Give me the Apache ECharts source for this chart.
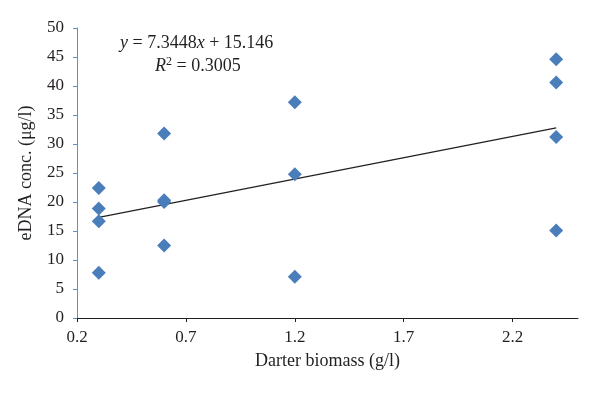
<!DOCTYPE html>
<html style="height: 100%">
<head>
	<meta charset="utf-8">
</head>
<body style="height: 100%; margin: 0; background: #fff">
<div id="container" style="width: 600px; height: 394px"></div>
<script type="text/javascript" src="https://cdn.jsdelivr.net/npm/echarts@6/dist/echarts.min.js"></script>
<script type="text/javascript">
    var dom = document.getElementById("container");
    var myChart = echarts.init(dom);

    // biomass groups (g/l) and measured eDNA (ug/l)
    var biomass = [0.3, 0.3, 0.3, 0.3,
                   0.6, 0.6, 0.6, 0.6,
                   1.2, 1.2, 1.2,
                   2.4, 2.4, 2.4, 2.4];
    var edna = [22.4, 18.9, 16.7, 7.8,
                31.8, 20.3, 20.0, 12.5,
                37.2, 24.8, 7.1,
                44.6, 40.6, 31.2, 15.1];
    var xTicks = [0.2, 0.7, 1.2, 1.7, 2.2];
    var slope = 7.3448, intercept = 15.146, r2 = '0.3005';
    var trendX = [0.3, 2.4];

    var points = [];
    for (var i = 0; i < biomass.length; i++) {
        points.push([biomass[i], edna[i]]);
    }
    var trend = [];
    for (var j = 0; j < trendX.length; j++) {
        trend.push([trendX[j], slope * trendX[j] + intercept]);
    }

    var font = 'Liberation Serif';
    var txt = '#231f20';

    var option = {
        backgroundColor: '#fff',
        animation: false,
        grid: { left: 77, right: 22, top: 28, bottom: 76 },
        xAxis: {
            type: 'value',
            min: 0.2,
            max: 2.5,
            name: 'Darter biomass (g/l)',
            nameLocation: 'middle',
            nameGap: 34,
            nameTextStyle: { fontFamily: font, fontSize: 18, color: txt },
            splitLine: { show: false },
            axisLine: { lineStyle: { color: '#231f20', width: 1 } },
            axisTick: { show: true, length: 4, customValues: xTicks, lineStyle: { color: '#231f20' } },
            axisLabel: {
                customValues: xTicks,
                fontFamily: font, fontSize: 17, color: txt, margin: 11,
                formatter: function (v) { return v.toFixed(1); }
            }
        },
        yAxis: {
            type: 'value',
            min: 0,
            max: 50,
            interval: 5,
            name: 'eDNA conc. (\u03bcg/l)',
            nameLocation: 'middle',
            nameGap: 42,
            nameTextStyle: { fontFamily: font, fontSize: 18, color: txt },
            splitLine: { show: false },
            axisLine: { show: true, lineStyle: { color: '#5b8fd4', width: 1 } },
            axisTick: { show: true, length: 4, lineStyle: { color: '#5b8fd4' } },
            axisLabel: { fontFamily: font, fontSize: 17, color: txt, margin: 13 }
        },
        graphic: [{
            type: 'text',
            left: 120,
            top: 34,
            style: {
                text: '{i|y} = 7.3448{i|x} + 15.146',
                font: '18px "Liberation Serif"',
                fill: txt,
                rich: {
                    i: { fontStyle: 'italic', fontFamily: font, fontSize: 18 }
                }
            }
        }, {
            type: 'text',
            left: 155,
            top: 56,
            style: {
                text: '{i|R}{s|2} = ' + r2,
                font: '18px "Liberation Serif"',
                fill: txt,
                rich: {
                    i: { fontStyle: 'italic', fontFamily: font, fontSize: 18 },
                    s: { fontFamily: font, fontSize: 12, verticalAlign: 'top', padding: [0, 0, 8, 0] }
                }
            }
        }],
        series: [{
            type: 'line',
            data: trend,
            symbol: 'none',
            lineStyle: { color: '#231f20', width: 1.2 },
            z: 1
        }, {
            type: 'scatter',
            data: points,
            symbol: 'diamond',
            symbolSize: [14, 14],
            itemStyle: { color: '#4a7ebb', opacity: 1 },
            z: 2
        }]
    };

    myChart.setOption(option);
</script>
</body>
</html>
